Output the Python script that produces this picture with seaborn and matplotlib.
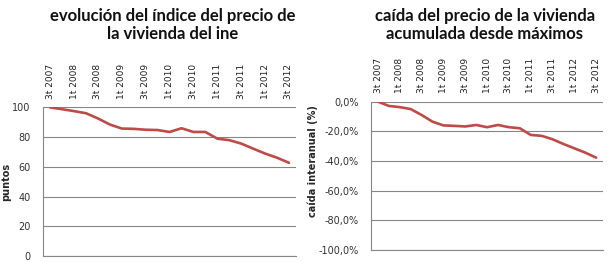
import pandas as pd
import matplotlib
matplotlib.use("Agg")
import matplotlib.pyplot as plt
import seaborn as sns
from matplotlib.ticker import FuncFormatter

# datos trimestrales (INE)
trimestres = ["3t 2007", "4t 2007", "1t 2008", "2t 2008", "3t 2008", "4t 2008",
              "1t 2009", "2t 2009", "3t 2009", "4t 2009", "1t 2010", "2t 2010",
              "3t 2010", "4t 2010", "1t 2011", "2t 2011", "3t 2011", "4t 2011",
              "1t 2012", "2t 2012", "3t 2012"]
indice = [100.0, 98.8, 97.5, 96.1, 92.6, 88.5, 85.8, 85.6, 85.0, 84.8, 83.5,
          86.0, 83.5, 83.5, 79.0, 78.0, 75.7, 72.3, 69.0, 66.2, 62.8]
caida = [0.0, -2.9, -3.7, -5.0, -9.0, -13.5, -16.0, -16.3, -16.7, -15.7, -17.2,
         -15.7, -17.2, -17.9, -22.4, -23.0, -25.3, -28.5, -31.4, -34.3, -37.7]

sns.set_style("white")
plt.rcParams["font.family"] = ["DejaVu Sans"]

df = pd.DataFrame({"pos": range(len(trimestres)), "indice": indice, "caida": caida})

fig = plt.figure(figsize=(6.1, 2.62), dpi=100)
ax1 = fig.add_axes([0.0705, 0.022, 0.415, 0.568])
ax2 = fig.add_axes([0.609, 0.045, 0.379, 0.567])

rojo = "#be4b48"
gris = "#868686"

sns.lineplot(data=df, x="pos", y="indice", ax=ax1, color=rojo, linewidth=1.9)
sns.lineplot(data=df, x="pos", y="caida", ax=ax2, color=rojo, linewidth=1.9)

ax1.set_ylim(0, 100)
ax1.set_yticks([0, 20, 40, 60, 80, 100])
ax2.set_ylim(-100, 0)
ax2.set_yticks([-100, -80, -60, -40, -20, 0])
ax2.yaxis.set_major_formatter(FuncFormatter(lambda v, p: f"{v:.1f}%".replace(".", ",")))

for ax in (ax1, ax2):
    ax.set_xlim(-0.6, len(trimestres) - 0.4)
    ax.set_xticks(range(0, len(trimestres), 2))
    ax.set_xticklabels(trimestres[::2], rotation=90, fontsize=6.5, color="#222222")
    ax.xaxis.tick_top()
    ax.tick_params(axis="x", length=0, pad=6)
    ax.tick_params(axis="y", length=0, labelsize=7, colors="#333333", pad=9)
    ax.grid(axis="y", color=gris, linewidth=0.8)
    ax.set_axisbelow(True)
    for s in ("top", "right"):
        ax.spines[s].set_visible(False)
    for s in ("left", "bottom"):
        ax.spines[s].set_color(gris)
        ax.spines[s].set_linewidth(0.8)
    ax.set_xlabel("")

ax1.set_ylabel("puntos", fontsize=7, fontweight="bold", labelpad=1)
ax2.set_ylabel("caída interanual (%)", fontsize=7, fontweight="bold", labelpad=1)
ax2.yaxis.set_label_coords(-0.23, 0.6)

fig.text(0.283, 0.905, "evolución del índice del precio de\nla vivienda del ine",
         ha="center", va="center", fontsize=12, fontweight="bold",
         family=["Lato", "DejaVu Sans"], color="#111111", linespacing=1.2)
fig.text(0.795, 0.905, "caída del precio de la vivienda\nacumulada desde máximos",
         ha="center", va="center", fontsize=12, fontweight="bold",
         family=["Lato", "DejaVu Sans"], color="#111111", linespacing=1.2)

fig.savefig("out.png", dpi=100)
